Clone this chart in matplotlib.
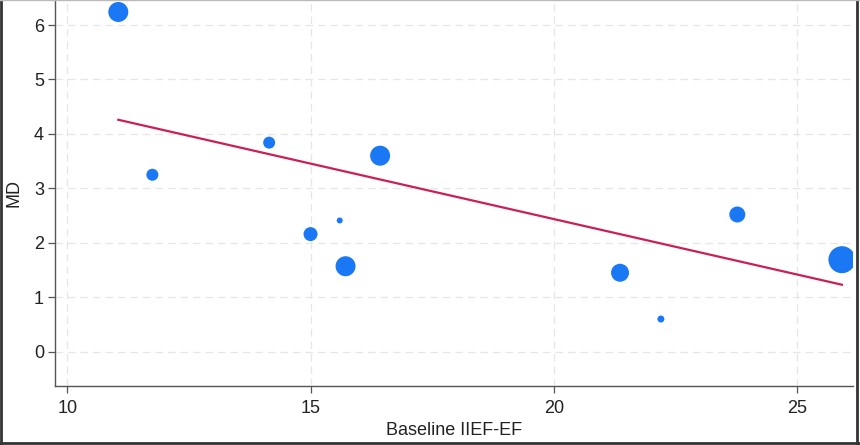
import matplotlib.pyplot as plt
from matplotlib.lines import Line2D

plt.rcParams['font.family'] = ['Liberation Sans', 'DejaVu Sans']

# study points: baseline IIEF-EF, mean difference, bubble diameter (px)
baseline = [11.05, 11.75, 14.15, 15.0, 15.6, 15.72, 16.43, 21.36, 22.2, 23.77, 25.92]
md = [6.24, 3.25, 3.84, 2.16, 2.41, 1.57, 3.6, 1.45, 0.6, 2.52, 1.69]
diam = [20, 12, 12, 14, 6, 20, 20, 18, 7, 16, 27]

# fitted meta-regression line (end points)
fit_x = [11.05, 25.92]
fit_y = [4.26, 1.23]

x_ticks = [10, 15, 20, 25]
y_ticks = [0, 1, 2, 3, 4, 5, 6]

fig = plt.figure(figsize=(8.6, 4.45), dpi=100)
ax = fig.add_axes([0.064, 0.1326, 0.928, 0.8674])

sizes = [(d * 0.72) ** 2 for d in diam]
ax.scatter(baseline, md, s=sizes, color='#1a78f5', edgecolors='none', zorder=3)
ax.plot(fit_x, fit_y, color='#cc1f55', lw=1.6, zorder=2)

ax.set_xlim(9.75, 26.15)
ax.set_ylim(-0.63, 6.46)
ax.set_xticks(x_ticks)
ax.set_yticks(y_ticks)
ax.grid(True, color='#e6e6e6', ls=(0, (6, 4)), lw=0.9, zorder=0)

for s in ['top', 'right']:
    ax.spines[s].set_visible(False)
for s in ['left', 'bottom']:
    ax.spines[s].set_color('#555555')
    ax.spines[s].set_linewidth(1.0)
ax.tick_params(direction='out', length=5, width=0.9, color='#555555',
               labelsize=13, labelcolor='#222222', pad=3)
ax.tick_params(axis='x', pad=5)

ax.set_xlabel('Baseline IIEF-EF', fontsize=13, color='#222222', labelpad=4)
ax.set_ylabel('MD', fontsize=13, color='#222222', labelpad=8)

# picture frame
fig.add_artist(Line2D([0.001, 0.001], [0, 1], transform=fig.transFigure, color='#333333', lw=2))
fig.add_artist(Line2D([0.997, 0.997], [0, 1], transform=fig.transFigure, color='#333333', lw=2))
fig.add_artist(Line2D([0, 1], [0.004, 0.004], transform=fig.transFigure, color='#333333', lw=2))
fig.add_artist(Line2D([0, 1], [0.999, 0.999], transform=fig.transFigure, color='#bbbbbb', lw=1))

fig.savefig('out.png', dpi=100)
